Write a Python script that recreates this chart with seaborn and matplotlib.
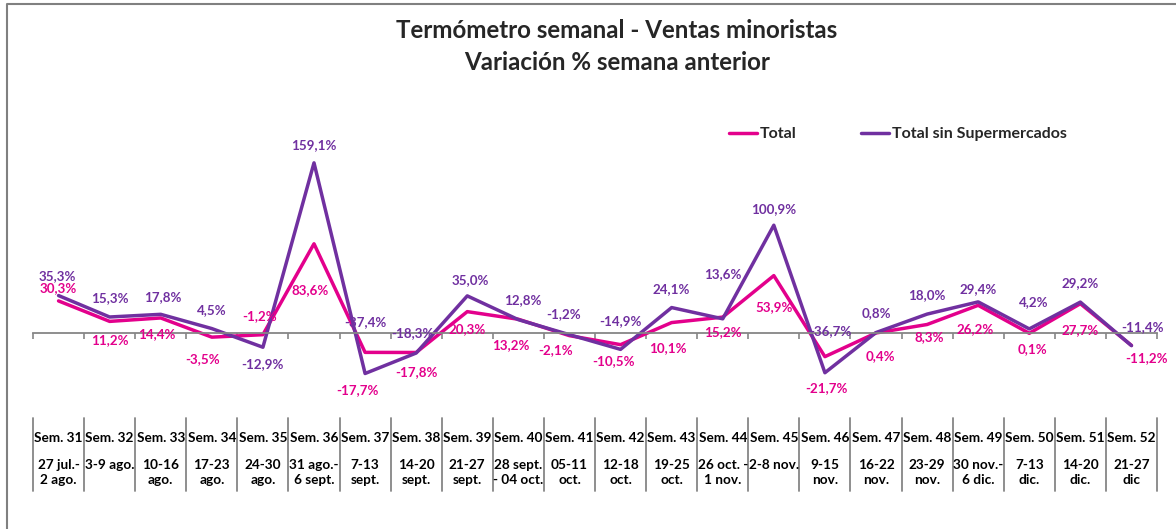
import pandas as pd
import matplotlib
matplotlib.use('Agg')
import matplotlib.pyplot as plt
import matplotlib.transforms as mtransforms
from matplotlib.lines import Line2D
import seaborn as sns

sns.set_style("white")
plt.rcParams['font.family'] = ['Lato', 'DejaVu Sans']

weeks = ["Sem. 31", "Sem. 32", "Sem. 33", "Sem. 34", "Sem. 35", "Sem. 36", "Sem. 37",
         "Sem. 38", "Sem. 39", "Sem. 40", "Sem. 41", "Sem. 42", "Sem. 43", "Sem. 44",
         "Sem. 45", "Sem. 46", "Sem. 47", "Sem. 48", "Sem. 49", "Sem. 50", "Sem. 51", "Sem. 52"]
dates = ["27 jul.-\n2 ago.", "3-9 ago.", "10-16\nago.", "17-23\nago.", "24-30\nago.",
         "31 ago.-\n6 sept.", "7-13\nsept.", "14-20\nsept.", "21-27\nsept.", "28 sept.\n- 04 oct.",
         "05-11\noct.", "12-18\noct.", "19-25\noct.", "26 oct. -\n1 nov.", "2-8 nov.",
         "9-15\nnov.", "16-22\nnov.", "23-29\nnov.", "30 nov.-\n6 dic.", "7-13\ndic.",
         "14-20\ndic.", "21-27\ndic"]

total = [30.3, 11.2, 14.4, -3.5, -1.2, 83.6, -17.7, -17.8, 20.3, 13.2, -2.1,
         -10.5, 10.1, 15.2, 53.9, -21.7, 0.4, 8.3, 26.2, 0.1, 27.7, -11.2]
sin_super = [35.3, 15.3, 17.8, 4.5, -12.9, 159.1, -37.4, -18.3, 35.0, 12.8, -1.2,
             -14.9, 24.1, 13.6, 100.9, -36.7, 0.8, 18.0, 29.4, 4.2, 29.2, -11.4]

# label offsets in pixels (dx, dy) relative to each point
pink_dx = [0, 0, -4, -9, -3, -4, -8, 0, 0, -8, -14, -7, -4, 0, 0, 2, 4, 2, -3, 3, 0, 15]
pink_dy = [13, -19, -16, -22, 19, -46, -38, -20, -17, -26, -14, -16, -26, -15, -31, -31, -23, -13, -24, -16, -26, -13]
purple_dx = [-1, 0, 2, 0, 0, 0, 0, -4, 3, 4, -6, 0, 0, 0, 0, 5, 0, 0, 0, 4, 0, 11]
purple_dy = [19, 19, 17, 18, -17, 18, 51, 20, 16, 20, 21, 28, 18, 45, 16, 42, 19, 19, 13, 27, 19, 19]

PINK = '#E3008C'
PURPLE = '#7030A0'
GRAY = '#868686'

W, H = 1176, 529
fig = plt.figure(figsize=(W / 100, H / 100), dpi=100)
ax = fig.add_axes([33 / W, 1 - 387 / H, 1124 / W, 268 / H])

df = pd.DataFrame({'x': range(len(weeks)), 'Total': total, 'Total sin Supermercados': sin_super})
sns.lineplot(data=df, x='x', y='Total', ax=ax, color=PINK, linewidth=2.5, label='Total')
sns.lineplot(data=df, x='x', y='Total sin Supermercados', ax=ax, color=PURPLE, linewidth=2.5,
             label='Total sin Supermercados')

ax.set_xlim(-0.5, len(weeks) - 0.5)
ax.set_ylim(-50, 200)
for s in ['top', 'right', 'left']:
    ax.spines[s].set_visible(False)
ax.spines['bottom'].set_position(('data', 0))
ax.spines['bottom'].set_color(GRAY)
ax.spines['bottom'].set_linewidth(1.3)
ax.set_xticks([i - 0.5 for i in range(len(weeks) + 1)])
ax.set_xticklabels([])
ax.tick_params(axis='x', direction='out', length=4, width=1.2, color=GRAY, bottom=True)
ax.set_yticks([])
ax.set_xlabel('')
ax.set_ylabel('')
ax.grid(False)

def fmt(v):
    return f'{v:.1f}%'.replace('.', ',')

for i, v in enumerate(total):
    ax.annotate(fmt(v), (i, v), xytext=(pink_dx[i], pink_dy[i]), textcoords='offset pixels',
                ha='center', va='center', fontsize=9.6, weight='bold', color=PINK,
                annotation_clip=False)
for i, v in enumerate(sin_super):
    ax.annotate(fmt(v), (i, v), xytext=(purple_dx[i], purple_dy[i]), textcoords='offset pixels',
                ha='center', va='center', fontsize=9.6, weight='bold', color=PURPLE,
                annotation_clip=False)

# category table below the chart
trans = mtransforms.blended_transform_factory(ax.transData, fig.transFigure)
for k in range(len(weeks) + 1):
    ax.add_line(Line2D([k - 0.5, k - 0.5], [1 - 418 / H, 1 - 491 / H], transform=trans,
                       color=GRAY, linewidth=1.3, clip_on=False))
for i in range(len(weeks)):
    ax.text(i, 1 - 438 / H, weeks[i], transform=trans, ha='center', va='center',
            fontsize=9.8, weight='bold', color='black')
    ax.text(i, 1 - 459 / H, dates[i], transform=trans, ha='center', va='top',
            fontsize=9.8, weight='bold', color='black', linespacing=1.28)

ax.legend(loc='center left', bbox_to_anchor=(729 / W, 1 - 134 / H), bbox_transform=fig.transFigure,
          ncol=2, frameon=False, handlelength=1.75, handletextpad=0.2, columnspacing=4.0,
          prop={'weight': 'bold', 'size': 11.5}, borderaxespad=0, borderpad=0)

fig.text(617 / W, 1 - 30 / H, 'Termómetro semanal - Ventas minoristas', ha='center', va='center',
         fontsize=17.4, weight='bold')
fig.text(617 / W, 1 - 62 / H, 'Variación % semana anterior', ha='center', va='center',
         fontsize=17.4, weight='bold')

# outer frame (top and left edges)
fig.add_artist(Line2D([6.5 / W, 6.5 / W, 1], [0, 1 - 3.5 / H, 1 - 3.5 / H],
                      transform=fig.transFigure, color='#808080', linewidth=1.5))

fig.savefig('out.png', dpi=100)
